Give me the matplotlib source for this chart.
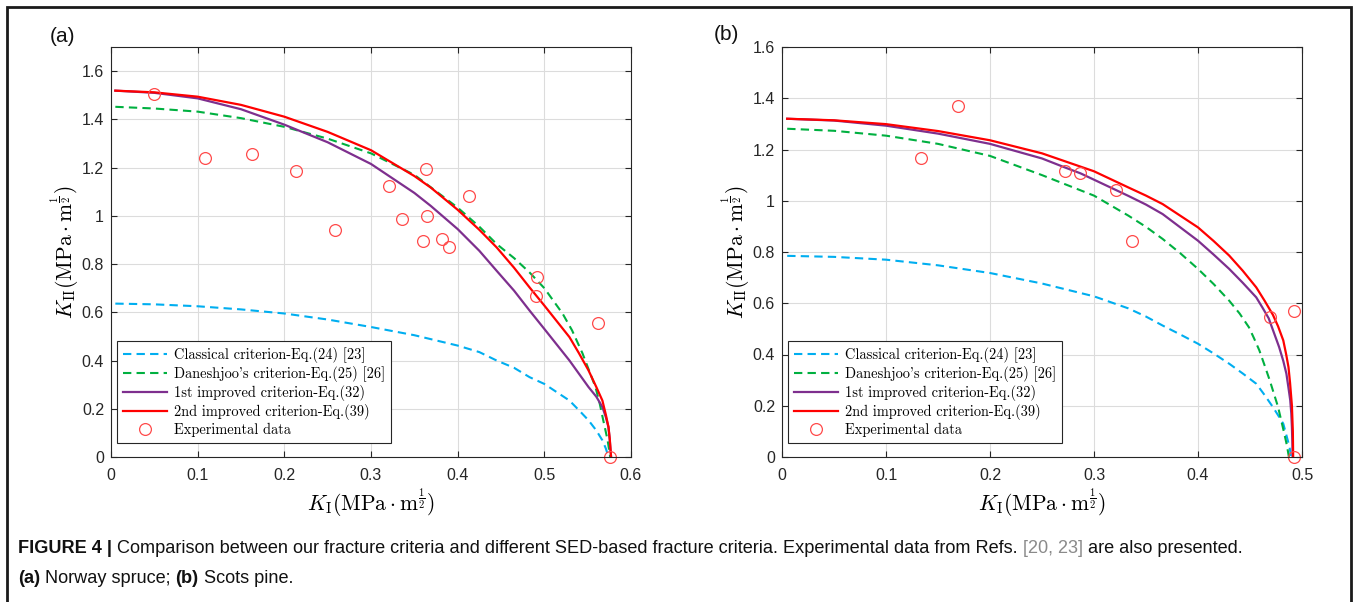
import matplotlib
matplotlib.use("Agg")
import matplotlib.pyplot as plt
from matplotlib import font_manager
from matplotlib.patches import Rectangle
from matplotlib.transforms import IdentityTransform

plt.rcParams["mathtext.fontset"] = "cm"

# ---- data (K_I, K_II in MPa*m^0.5) ----
# (a) Norway spruce
a_blue_x = [0.005, 0.05, 0.1, 0.15, 0.2, 0.25, 0.3, 0.35, 0.4, 0.425, 0.445, 0.465, 0.483, 0.5,
            0.529, 0.541, 0.551, 0.56, 0.567, 0.571, 0.574]
a_blue_y = [0.636, 0.633, 0.625, 0.612, 0.595, 0.570, 0.539, 0.505, 0.462, 0.435, 0.400, 0.370, 0.331, 0.303,
            0.234, 0.190, 0.152, 0.110, 0.069, 0.035, 0.0]
a_green_x = [0.005, 0.05, 0.1, 0.15, 0.2, 0.25, 0.3, 0.35, 0.4, 0.425, 0.445, 0.465, 0.483, 0.5,
             0.521, 0.532, 0.544, 0.552, 0.559, 0.564, 0.568, 0.573, 0.576]
a_green_y = [1.452, 1.445, 1.432, 1.405, 1.369, 1.320, 1.259, 1.170, 1.034, 0.955, 0.883, 0.825, 0.765, 0.700,
             0.595, 0.525, 0.430, 0.355, 0.290, 0.220, 0.152, 0.070, 0.0]
a_purple_x = [0.005, 0.05, 0.1, 0.15, 0.2, 0.25, 0.3, 0.35, 0.369, 0.4, 0.425, 0.445, 0.465, 0.483, 0.5,
              0.529, 0.54, 0.551, 0.56, 0.567, 0.571, 0.574, 0.5755, 0.577]
a_purple_y = [1.519, 1.510, 1.487, 1.442, 1.378, 1.305, 1.215, 1.095, 1.041, 0.945, 0.855, 0.772, 0.690, 0.607, 0.531,
              0.400, 0.345, 0.290, 0.250, 0.207, 0.165, 0.124, 0.070, 0.0]
a_red_x = [0.005, 0.05, 0.1, 0.15, 0.2, 0.25, 0.3, 0.35, 0.369, 0.4, 0.425, 0.445, 0.465, 0.483, 0.5,
           0.529, 0.54, 0.551, 0.56, 0.567, 0.571, 0.574, 0.5755, 0.577]
a_red_y = [1.519, 1.512, 1.494, 1.460, 1.411, 1.348, 1.272, 1.165, 1.117, 1.025, 0.942, 0.869, 0.785, 0.703, 0.628,
           0.497, 0.430, 0.359, 0.290, 0.234, 0.175, 0.124, 0.075, 0.0]
a_exp_x = [0.050, 0.109, 0.163, 0.213, 0.258, 0.321, 0.336, 0.364, 0.365, 0.360, 0.382, 0.390, 0.413, 0.492, 0.490,
           0.562, 0.576]
a_exp_y = [1.506, 1.238, 1.255, 1.187, 0.941, 1.122, 0.986, 1.194, 1.001, 0.896, 0.903, 0.869, 1.083, 0.745, 0.669,
           0.556, 0.0]

# (b) Scots pine
b_blue_x = [0.005, 0.05, 0.1, 0.15, 0.2, 0.25, 0.3, 0.333, 0.35, 0.366, 0.383, 0.4, 0.415, 0.43, 0.443, 0.456,
            0.464, 0.472, 0.477, 0.482, 0.485, 0.488, 0.4895]
b_blue_y = [0.785, 0.781, 0.770, 0.748, 0.718, 0.677, 0.627, 0.580, 0.548, 0.513, 0.478, 0.442, 0.404, 0.364, 0.326,
            0.286, 0.242, 0.195, 0.163, 0.130, 0.085, 0.039, 0.0]
b_green_x = [0.005, 0.05, 0.1, 0.15, 0.2, 0.25, 0.3, 0.333, 0.35, 0.366, 0.383, 0.4, 0.415, 0.43, 0.44, 0.449,
             0.454, 0.459, 0.464, 0.469, 0.473, 0.477, 0.480, 0.483, 0.4855, 0.4874]
b_green_y = [1.281, 1.273, 1.254, 1.222, 1.175, 1.100, 1.020, 0.942, 0.898, 0.851, 0.795, 0.734, 0.675, 0.610, 0.560,
             0.506, 0.462, 0.416, 0.358, 0.299, 0.247, 0.195, 0.143, 0.091, 0.045, 0.0]
b_purple_x = [0.005, 0.05, 0.1, 0.15, 0.2, 0.25, 0.272, 0.287, 0.321, 0.333, 0.35, 0.366, 0.4, 0.415, 0.43, 0.443,
              0.456, 0.462, 0.468, 0.473, 0.478, 0.482, 0.485, 0.487, 0.4887, 0.4897, 0.4903, 0.4907, 0.491]
b_purple_y = [1.320, 1.313, 1.293, 1.262, 1.222, 1.165, 1.130, 1.107, 1.042, 1.019, 0.985, 0.948, 0.844, 0.790, 0.734,
              0.680, 0.623, 0.583, 0.541, 0.485, 0.429, 0.375, 0.325, 0.270, 0.221, 0.170, 0.117, 0.060, 0.0]
b_red_x = [0.005, 0.05, 0.1, 0.15, 0.2, 0.25, 0.3, 0.333, 0.35, 0.366, 0.4, 0.415, 0.43, 0.443, 0.456, 0.464,
           0.472, 0.477, 0.482, 0.4848, 0.487, 0.4885, 0.4903, 0.4912, 0.4915]
b_red_y = [1.320, 1.314, 1.299, 1.272, 1.236, 1.185, 1.115, 1.052, 1.020, 0.987, 0.896, 0.843, 0.786, 0.727, 0.662,
           0.610, 0.555, 0.510, 0.455, 0.400, 0.351, 0.290, 0.200, 0.100, 0.0]
b_exp_x = [0.134, 0.169, 0.272, 0.287, 0.321, 0.337, 0.469, 0.492, 0.492]
b_exp_y = [1.166, 1.369, 1.117, 1.107, 1.042, 0.843, 0.545, 0.570, 0.0]

labels = ["Classical criterion-Eq.(24) [23]",
          "Daneshjoo's criterion-Eq.(25) [26]",
          "1st improved criterion-Eq.(32)",
          "2nd improved criterion-Eq.(39)",
          "Experimental data"]

a_xticks = [0, 0.1, 0.2, 0.3, 0.4, 0.5, 0.6]
a_xticklabels = ["0", "0.1", "0.2", "0.3", "0.4", "0.5", "0.6"]
b_xticks = [0, 0.1, 0.2, 0.3, 0.4, 0.5]
b_xticklabels = ["0", "0.1", "0.2", "0.3", "0.4", "0.5"]
yticks = [0, 0.2, 0.4, 0.6, 0.8, 1.0, 1.2, 1.4, 1.6]
yticklabels = ["0", "0.2", "0.4", "0.6", "0.8", "1", "1.2", "1.4", "1.6"]

BLUE = "#00aef0"
GREEN = "#00b040"
PURPLE = "#7e2f8e"
RED = "#ff0000"
MARK = "#ff4a4a"
AXC = "#262626"
TICKFONT = "Liberation Sans"

fig = plt.figure(figsize=(13.56, 6.02), dpi=100)
W, H = 1356, 602


def panel(left, series, exp, xticks, xticklabels, xmax, ymax):
    ax = fig.add_axes([left / W, 1 - 457 / H, 520 / W, 410 / H])
    (bx, by), (gx, gy), (px, py), (rx, ry) = series
    ax.plot(bx, by, color=BLUE, lw=1.5, dashes=(4, 2.5), label=labels[0])
    ax.plot(gx, gy, color=GREEN, lw=1.5, dashes=(4, 2.5), label=labels[1])
    ax.plot(px, py, color=PURPLE, lw=1.6, label=labels[2])
    ax.plot(rx, ry, color=RED, lw=1.6, label=labels[3])
    ax.plot(exp[0], exp[1], ls="none", marker="o", ms=8.5, mfc="none",
            mec=MARK, mew=0.9, label=labels[4], clip_on=False)
    ax.set_xlim(0, xmax)
    ax.set_ylim(0, ymax)
    ax.set_xticks(xticks)
    ax.set_xticklabels(xticklabels)
    ax.set_yticks(yticks)
    ax.set_yticklabels(yticklabels)
    ax.grid(True, color="#dcdcdc", lw=0.8)
    ax.set_axisbelow(True)
    ax.tick_params(direction="in", length=4, width=0.8, top=True, right=True,
                   colors=AXC, labelsize=11.5)
    ax.tick_params(axis="x", pad=8)
    ax.tick_params(axis="y", pad=5)
    for lab in ax.get_xticklabels() + ax.get_yticklabels():
        lab.set_family(TICKFONT)
    for sp in ax.spines.values():
        sp.set_color(AXC)
        sp.set_linewidth(0.8)
    ax.set_xlabel(r"$K_{\rm I}(\rm MPa\cdot m^{\frac{1}{2}})$", fontsize=15.5, labelpad=2)
    ax.set_ylabel(r"$K_{\rm II}(\rm MPa\cdot m^{\frac{1}{2}})$", fontsize=15.5, labelpad=0.5)
    leg = ax.legend(loc="lower left", bbox_to_anchor=(0.012, 0.034), borderaxespad=0,
                    prop={"family": "cmr10", "size": 10.4}, handlelength=3.0,
                    handletextpad=0.5, labelspacing=0.2, borderpad=0.42,
                    fancybox=False, framealpha=1, edgecolor=AXC)
    leg.get_frame().set_linewidth(0.8)
    return ax


panel(111, [(a_blue_x, a_blue_y), (a_green_x, a_green_y), (a_purple_x, a_purple_y),
            (a_red_x, a_red_y)], (a_exp_x, a_exp_y), a_xticks, a_xticklabels, 0.6, 1.7)
panel(782, [(b_blue_x, b_blue_y), (b_green_x, b_green_y), (b_purple_x, b_purple_y),
            (b_red_x, b_red_y)], (b_exp_x, b_exp_y), b_xticks, b_xticklabels, 0.5, 1.6)

fig.text(50 / W, 1 - 37 / H, "(a)", fontsize=15, family=TICKFONT, va="center", color="#111111")
fig.text(714 / W, 1 - 34 / H, "(b)", fontsize=15, family=TICKFONT, va="center", color="#111111")

# outer frame (bottom edge falls outside the picture)
fig.patches.append(Rectangle((7 / W, -0.02), 1344 / W, (H - 7) / H + 0.02,
                             transform=fig.transFigure, fill=False,
                             lw=2, edgecolor="#1a1a1a"))

# ---- caption ----
names = {f.name for f in font_manager.fontManager.ttflist}
CAPFONT = "Liberation Sans Narrow" if "Liberation Sans Narrow" in names else "Liberation Sans"
renderer = fig.canvas.get_renderer()
line1 = [("FIGURE 4 |", "bold", "#111111"),
         ("Comparison between our fracture criteria and different SED-based fracture criteria. "
          "Experimental data from Refs.", "normal", "#111111"),
         ("[20, 23]", "normal", "#8a8a8a"),
         ("are also presented.", "normal", "#111111")]
line2 = [("(a)", "bold", "#111111"), ("Norway spruce;", "normal", "#111111"),
         ("(b)", "bold", "#111111"), ("Scots pine.", "normal", "#111111")]


def measure(s, size, weight="normal"):
    t = fig.text(0, 0, s, fontsize=size, family=CAPFONT, fontweight=weight)
    w = t.get_window_extent(renderer).width
    t.remove()
    return w


def line_width(pieces, size):
    gap = measure("x x", size) - measure("xx", size)
    return sum(measure(s, size, wt) for s, wt, _ in pieces) + gap * (len(pieces) - 1)


cap_size = 12 * 1233 / line_width(line1, 12)


def caption(pieces, x, y):
    gap = measure("x x", cap_size) - measure("xx", cap_size)
    for s, wt, col in pieces:
        t = fig.text(x, H - y, s, fontsize=cap_size, family=CAPFONT, fontweight=wt,
                     color=col, va="baseline", transform=IdentityTransform())
        x += t.get_window_extent(renderer).width + gap


caption(line1, 18, 553)
caption(line2, 18, 583)

fig.savefig("out.png", dpi=100)
